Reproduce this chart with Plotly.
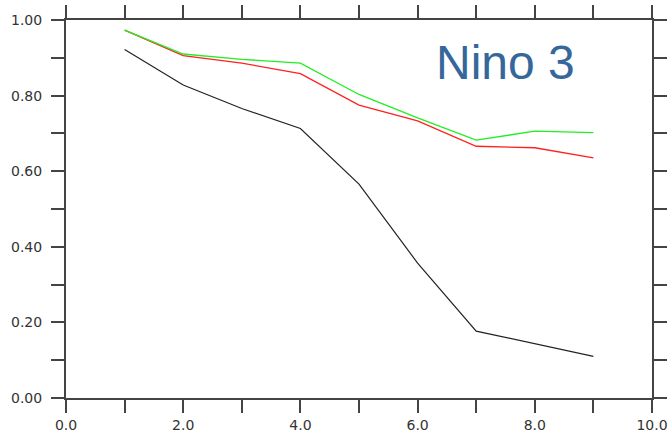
import plotly.graph_objects as go

# Lead times and correlation skill for three forecast systems
lead = [1, 2, 3, 4, 5, 6, 7, 8, 9]
skill_black = [0.922, 0.828, 0.766, 0.713, 0.566, 0.357, 0.177, 0.143, 0.110]
skill_red = [0.973, 0.906, 0.886, 0.858, 0.775, 0.733, 0.666, 0.662, 0.635]
skill_green = [0.973, 0.910, 0.896, 0.886, 0.803, 0.741, 0.682, 0.706, 0.702]

x_tickvals = [0, 2, 4, 6, 8, 10]
x_ticktext = ["0.0", "2.0", "4.0", "6.0", "8.0", "10.0"]
y_tickvals = [0, 0.2, 0.4, 0.6, 0.8, 1.0]
y_ticktext = ["0.00", "0.20", "0.40", "0.60", "0.80", "1.00"]

fig = go.Figure()
fig.add_trace(go.Scatter(x=lead, y=skill_black, mode="lines",
                         line=dict(color="#222222", width=1.2)))
fig.add_trace(go.Scatter(x=lead, y=skill_red, mode="lines",
                         line=dict(color="#ff2020", width=1.3)))
fig.add_trace(go.Scatter(x=lead, y=skill_green, mode="lines",
                         line=dict(color="#22ee22", width=1.3)))

axis_common = dict(
    showgrid=False, zeroline=False, showline=True, linecolor="#444444",
    linewidth=2, mirror="ticks", ticks="outside", ticklen=13, tickwidth=1.5,
    tickcolor="#444444", automargin=False,
    tickfont=dict(family="DejaVu Sans", size=14, color="#333333"),
)

fig.update_xaxes(range=[0, 10], tickvals=x_tickvals, ticktext=x_ticktext,
                 ticklabelstandoff=0,
                 minor=dict(dtick=1, tick0=0, ticks="outside", ticklen=13,
                            tickwidth=1.5, tickcolor="#444444"),
                 **axis_common)
fig.update_yaxes(range=[0, 1], tickvals=y_tickvals, ticktext=y_ticktext,
                 ticklabelstandoff=6,
                 minor=dict(dtick=0.1, tick0=0, ticks="outside", ticklen=13,
                            tickwidth=1.5, tickcolor="#444444"),
                 **axis_common)

# title placed inside the plot area (pixel centre converted to paper units)
fig.add_annotation(x=(505 - 66) / (652 - 66), y=(398.3 - 62) / (398.3 - 19.5),
                   xref="paper", yref="paper", text="Nino 3",
                   showarrow=False, xanchor="center", yanchor="middle",
                   font=dict(family="Liberation Sans, Arial", size=48, color="#35679b"))

fig.update_layout(
    width=669, height=435, showlegend=False,
    margin=dict(l=66, r=17, t=20, b=37),
    plot_bgcolor="white", paper_bgcolor="white",
)

fig.write_html("out.html")
